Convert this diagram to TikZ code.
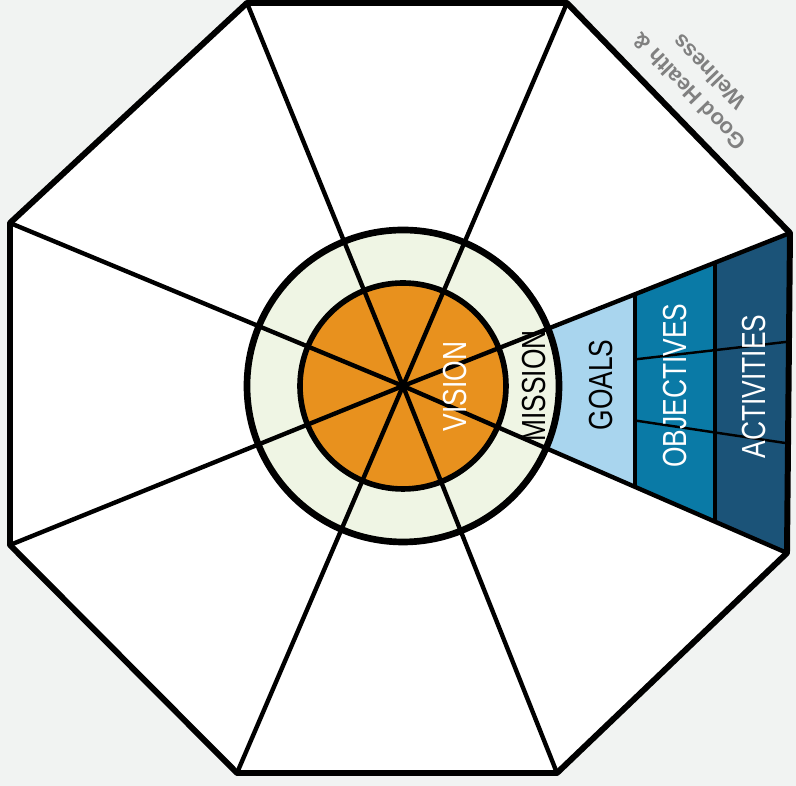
\documentclass[tikz,border=0pt]{standalone}
\usepackage{fontspec}
\setsansfont{Liberation Sans}
\newfontfamily\narrowsf[FakeStretch=0.79]{Liberation Sans}
\usetikzlibrary{calc}
\definecolor{bgGray}{HTML}{F1F3F2}
\definecolor{ringGreen}{HTML}{EFF5E4}
\definecolor{visionOrange}{HTML}{E8911E}
\definecolor{goalBlue}{HTML}{A9D5EE}
\definecolor{objBlue}{HTML}{0A7AA6}
\definecolor{actBlue}{HTML}{1B5378}
\definecolor{labelGray}{HTML}{808080}

\begin{document}
\begin{tikzpicture}[
  x=0.02cm, y=0.02cm,
  rim/.style    = {line width=3.4pt, line join=round},
  spoke/.style  = {line width=2.5pt, line cap=round},
  divide/.style = {line width=1.8pt},
  row/.style    = {line width=1.4pt},
  lbl/.style    = {rotate=90, inner sep=0pt, font=\narrowsf\fontsize{19}{19}\selectfont},
  theme/.style  = {rotate=134, align=center, inner sep=0pt, text=labelGray,
                   font=\sffamily\bfseries\fontsize{12.5}{16}\selectfont},
]
  \fill[bgGray] (-403,-400) rectangle (393,386);
  \useasboundingbox (-403,-400) rectangle (393,386);

  % octagon corners
  \coordinate (c)  at (0,0);
  \coordinate (v1) at (-156,383);
  \coordinate (v2) at (164,383);
  \coordinate (v3) at (387,153);
  \coordinate (v4) at (384,-167);
  \coordinate (v5) at (154,-387);
  \coordinate (v6) at (-166,-387);
  \coordinate (v7) at (-393,-159);
  \coordinate (v8) at (-393,163);

  % wedge break points
  \coordinate (gt) at (232,91.7);
  \coordinate (gb) at (232,-100.9);
  \coordinate (ot) at (312,123.3);
  \coordinate (ob) at (312,-135.7);
  \coordinate (r1a) at (232,26.6);
  \coordinate (r1b) at (386,44.4);
  \coordinate (r2a) at (232,-34.5);
  \coordinate (r2b) at (385.5,-57.5);

  \fill[white] (v1)--(v2)--(v3)--(v4)--(v5)--(v6)--(v7)--(v8)--cycle;

  \fill[goalBlue] (c)--(gt)--(gb)--cycle;
  \fill[objBlue]  (gt)--(ot)--(ob)--(gb)--cycle;
  \fill[actBlue]  (ot)--(v3)--(v4)--(ob)--cycle;
  \draw[divide] (gt)--(gb) (ot)--(ob);
  \draw[row] (r1a)--(r1b) (r2a)--(r2b);

  \fill[ringGreen] (c) circle (156);
  \fill[visionOrange] (c) circle (103);
  \foreach \k in {1,...,8}
     \draw[spoke] (c)--(v\k);
  \draw[line width=3.8pt] (c) circle (156);
  \draw[line width=3.2pt] (c) circle (103);
  \draw[rim] (v1)--(v2)--(v3)--(v4)--(v5)--(v6)--(v7)--(v8)--cycle;

  \node[lbl, text=white] (vision)     at (52,-0.5)  {VISION};
  \node[lbl]             (mission)    at (131.5,0)  {MISSION};
  \node[lbl]             (goals)      at (198,1)    {GOALS};
  \node[lbl, text=white] (objectives) at (272,0.5)  {OBJECTIVES};
  \node[lbl, text=white] (activities) at (351,-0.5) {ACTIVITIES};
  \node[theme] (health) at (296,304) {Good Health \&\\Wellness};
\end{tikzpicture}
\end{document}
